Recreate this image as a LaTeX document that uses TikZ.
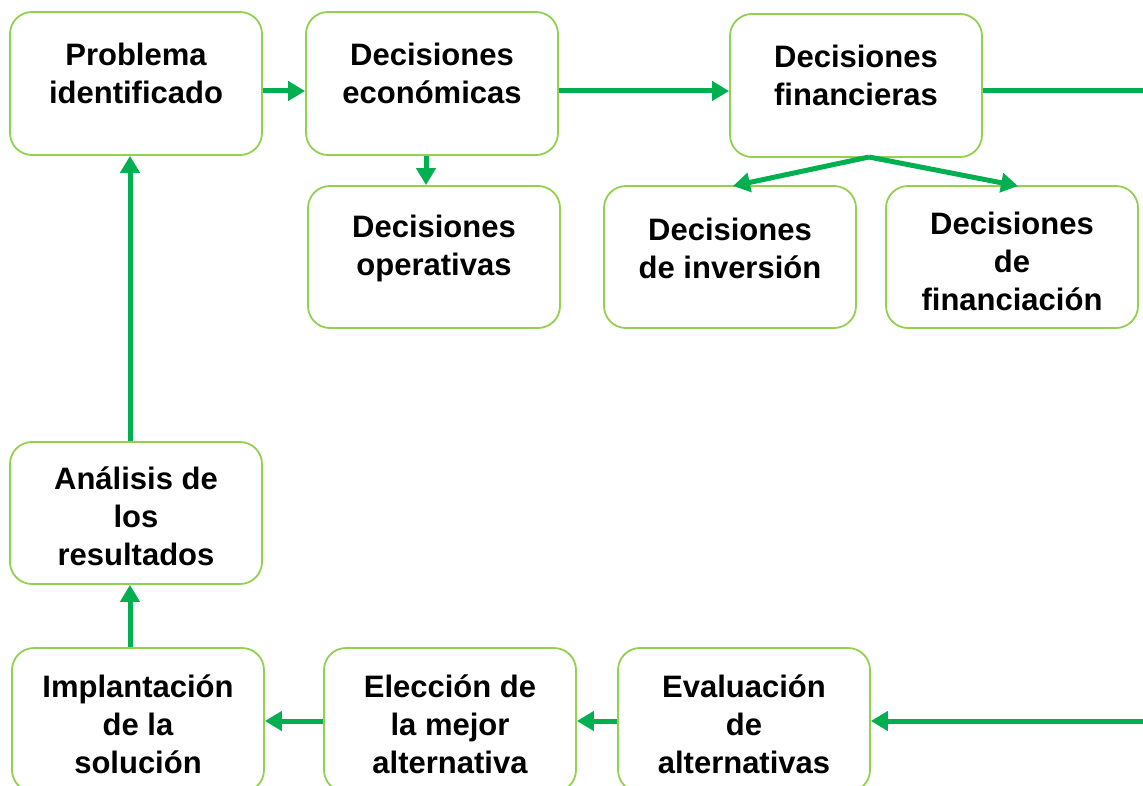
\documentclass[tikz,border=0pt]{standalone}
\usepackage{fontspec}
\setmainfont{Liberation Sans}
\usetikzlibrary{arrows.meta}
\definecolor{boxgreen}{RGB}{146,208,80}
\definecolor{arrgreen}{RGB}{0,176,80}
\begin{document}
\begin{tikzpicture}[x=1pt,y=-1pt,
  box/.style={draw=boxgreen, line width=1.8pt, rounded corners=22pt,
    minimum width=252pt, minimum height=143pt, inner sep=0pt},
  lbl/.style={font=\fontsize{31}{38}\selectfont\bfseries, align=center,
    text=black, inner sep=0pt},
  arr/.style={draw=arrgreen, line width=5pt, -{Triangle[length=17pt,width=19pt]}},
  ln/.style={draw=arrgreen, line width=5pt}]
\useasboundingbox (0,0) rectangle (1143,786);

% boxes
\node[box] (p)  at (136,83.5) {};
\node[box] (e)  at (432,83.5) {};
\node[box] (f)  at (856,85.5) {};
\node[box, minimum height=142pt] (o)  at (434,257) {};
\node[box, minimum height=142pt] (i)  at (730,257) {};
\node[box, minimum height=142pt] (fi) at (1012,257) {};
\node[box, minimum height=142pt] (a)  at (136,513) {};
\node[box, minimum height=144pt] (im) at (138,720) {};
\node[box, minimum height=144pt] (el) at (450,720) {};
\node[box, minimum height=144pt] (ev) at (744,720) {};

% labels
\node[lbl] (tp)  at (136,73) {Problema\\identificado};
\node[lbl] (te)  at (432,73) {Decisiones\\económicas};
\node[lbl] (tf)  at (856,75) {Decisiones\\financieras};
\node[lbl] (to)  at (434,248) {Decisiones\\operativas};
\node[lbl] (ti)  at (730,248) {Decisiones\\de inversión};
\node[lbl] (tfi) at (1012,261) {Decisiones\\de\\financiación};
\node[lbl] (ta)  at (136,516) {Análisis de\\los\\resultados};
\node[lbl] (tim) at (138,724) {Implantación\\de la\\solución};
\node[lbl] (tel) at (450,724) {Elección de\\la mejor\\alternativa};
\node[lbl] (tev) at (744,724) {Evaluación\\de\\alternativas};

% helper coordinates
\coordinate (r1) at (0,91);
\coordinate (r2) at (0,721);
\coordinate (c1) at (426,0);
\coordinate (c2) at (130,0);
\coordinate (fsrc) at (869,157);
\coordinate (itip) at (733,186);
\coordinate (fitip) at (1018,186);
\coordinate (outR) at (1160,91);
\coordinate (inR) at (1160,721);

% connectors
\draw[arr] (p.east |- r1) -- (e.west |- r1);
\draw[arr] (e.east |- r1) -- (f.west |- r1);
\draw[ln]  (f.east |- r1) -- (outR);
\draw[arr] (e.south -| c1) -- (o.north -| c1);
\draw[arr] (fsrc) -- (itip);
\draw[arr] (fsrc) -- (fitip);
\draw[arr] (inR) -- (ev.east |- r2);
\draw[arr] (ev.west |- r2) -- (el.east |- r2);
\draw[arr] (el.west |- r2) -- (im.east |- r2);
\draw[arr] (im.north -| c2) -- (a.south -| c2);
\draw[arr] (a.north -| c2) -- (p.south -| c2);
\end{tikzpicture}
\end{document}
